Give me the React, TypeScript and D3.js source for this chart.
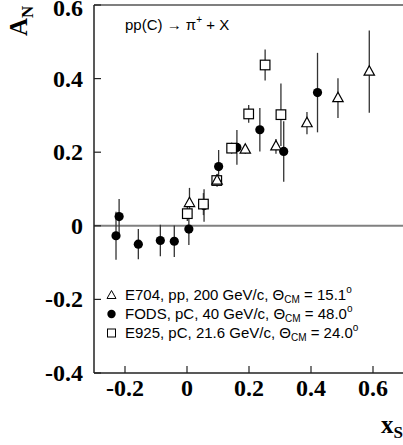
import React from "react";
import * as d3 from "d3";

const fodsX = [-0.229, -0.219, -0.157, -0.086, -0.041, 0.006, 0.055, 0.102, 0.161, 0.235, 0.312, 0.421];
const fodsY = [-0.027, 0.025, -0.05, -0.04, -0.042, -0.009, 0.055, 0.161, 0.213, 0.261, 0.202, 0.362];
const fodsE = [0.065, 0.048, 0.041, 0.043, 0.043, 0.043, 0.044, 0.045, 0.047, 0.059, 0.082, 0.108];

const e704X = [0.008, 0.097, 0.188, 0.287, 0.387, 0.487, 0.588];
const e704Y = [0.062, 0.123, 0.207, 0.216, 0.279, 0.347, 0.419];
const e704E = [0.041, 0.017, 0.012, 0.02, 0.03, 0.054, 0.112];

const e925X = [0.001, 0.053, 0.096, 0.144, 0.199, 0.252, 0.303];
const e925Y = [0.033, 0.059, 0.123, 0.211, 0.304, 0.437, 0.302];
const e925E = [0.02, 0.03, 0.015, 0.015, 0.024, 0.042, 0.085];

const xTicks = [-0.2, 0, 0.2, 0.4, 0.6];
const yTicks = [-0.4, -0.2, 0, 0.2, 0.4, 0.6];

const legendRows = [
  { sym: "tri", label: "E704, pp, 200 GeV/c, ", val: "15.1" },
  { sym: "circ", label: "FODS, pC, 40 GeV/c, ", val: "48.0" },
  { sym: "sq", label: "E925, pC, 21.6 GeV/c, ", val: "24.0" },
];

const W = 403;
const H = 445;
const L = 94;
const R = 404;
const T = 5;
const B = 373;

const fmt = (v: number) => (Math.abs(v) < 1e-9 ? "0" : v.toFixed(1));

function Sym({ kind, cx, cy }: { kind: string; cx: number; cy: number }) {
  if (kind === "circ") return <circle cx={cx} cy={cy} r={4.6} fill="#000" />;
  if (kind === "sq")
    return <rect x={cx - 4.8} y={cy - 4.8} width={9.6} height={9.6} fill="#fff" stroke="#000" strokeWidth={1.2} />;
  const p = `M${cx},${cy - 5.8}L${cx + 5.2},${cy + 3.6}L${cx - 5.2},${cy + 3.6}Z`;
  return <path d={p} fill="#fff" stroke="#000" strokeWidth={1.2} />;
}

export default function App() {
  const x = d3.scaleLinear().domain([-0.3, 0.7]).range([L, R]);
  const y = d3.scaleLinear().domain([-0.4, 0.6]).range([B, T]);

  const series = [
    { kind: "circ", xs: fodsX, ys: fodsY, es: fodsE },
    { kind: "sq", xs: e925X, ys: e925Y, es: e925E },
    { kind: "tri", xs: e704X, ys: e704Y, es: e704E },
  ];

  const tickFont = "'Liberation Serif', 'Times New Roman', serif";
  const sans = "'Liberation Sans', Arial, Helvetica, sans-serif";

  return (
    <svg width={W} height={H} style={{ position: "absolute", left: 0, top: 0, background: "#fff" }}>
      <rect x={0} y={0} width={W} height={H} fill="#fff" />
      {/* zero line */}
      <line x1={L} x2={R} y1={y(0)} y2={y(0)} stroke="#808080" strokeWidth={2} />
      {/* frame */}
      <line x1={L} x2={R} y1={T} y2={T} stroke="#555" strokeWidth={1.5} />
      <line x1={L} x2={R} y1={B} y2={B} stroke="#222" strokeWidth={1.5} />
      <line x1={L} x2={L} y1={T} y2={B} stroke="#222" strokeWidth={1.5} />
      {/* ticks */}
      {yTicks.map((t) => (
        <g key={"y" + t}>
          <line x1={L} x2={L + 7} y1={y(t)} y2={y(t)} stroke="#222" strokeWidth={1.2} />
          <text x={83} y={Math.max(y(t) + 8, 16)} textAnchor="end" fontFamily={tickFont} fontWeight="bold" fontSize={24}>
            {fmt(t)}
          </text>
        </g>
      ))}
      {xTicks.map((t) => (
        <g key={"x" + t}>
          <line x1={x(t)} x2={x(t)} y1={B} y2={B - 7} stroke="#222" strokeWidth={1.2} />
          <text x={x(t)} y={396} textAnchor="middle" fontFamily={tickFont} fontWeight="bold" fontSize={24}>
            {fmt(t)}
          </text>
        </g>
      ))}
      {/* axis titles */}
      <g transform="translate(27,36) rotate(-90)">
        <text x={0} y={0} fontFamily={tickFont} fontWeight="bold" fontSize={25}>
          A
          <tspan fontSize={17} dy={6}>N</tspan>
        </text>
      </g>
      <text x={381} y={433} fontFamily={tickFont} fontWeight="bold" fontSize={25}>
        x<tspan fontSize={17} dy={5}>S</tspan>
      </text>
      {/* reaction label */}
      <text x={125} y={30} fontFamily={sans} fontSize={15}>
        pp(C) → π<tspan fontSize={10} dy={-7}>+</tspan>
        <tspan dy={7}> + X</tspan>
      </text>
      {/* error bars */}
      {series.map((s) =>
        s.xs.map((xv, i) => (
          <line
            key={s.kind + "e" + i}
            x1={x(xv)}
            x2={x(xv)}
            y1={y(s.ys[i] - s.es[i])}
            y2={y(s.ys[i] + s.es[i])}
            stroke="#333"
            strokeWidth={1.3}
          />
        ))
      )}
      {/* symbols */}
      {series.map((s) =>
        s.xs.map((xv, i) => <Sym key={s.kind + "s" + i} kind={s.kind} cx={x(xv)} cy={y(s.ys[i])} />)
      )}
      {/* legend */}
      {legendRows.map((r, i) => {
        const cy = 295 + i * 19;
        return (
          <g key={r.sym}>
            {r.sym === "circ" ? (
              <circle cx={111.5} cy={cy} r={4.2} fill="#000" />
            ) : r.sym === "sq" ? (
              <rect x={107.5} y={cy - 4} width={8} height={8} fill="#fff" stroke="#000" strokeWidth={1} />
            ) : (
              <path d={`M111.5,${cy - 4.5}L116,${cy + 3.5}L107,${cy + 3.5}Z`} fill="#fff" stroke="#000" strokeWidth={1} />
            )}
            <text x={125} y={cy + 5} fontFamily={sans} fontSize={15}>
              {r.label}Θ<tspan fontSize={10} dy={3}>CM</tspan>
              <tspan dy={-3}> = {r.val}</tspan>
              <tspan fontSize={10} dy={-7}>o</tspan>
            </text>
          </g>
        );
      })}
    </svg>
  );
}
